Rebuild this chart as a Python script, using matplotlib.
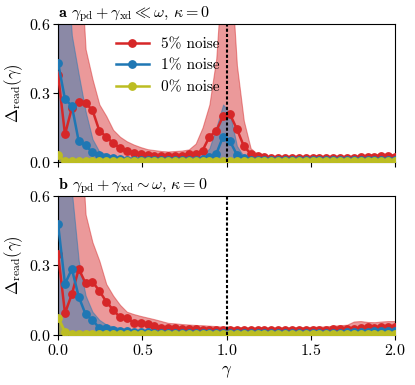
import numpy as np
import matplotlib
matplotlib.use("Agg")
import matplotlib.pyplot as plt

plt.rcParams['font.family'] = 'serif'
plt.rcParams['font.serif'] = ['cmr10', 'DejaVu Serif']
plt.rcParams['mathtext.fontset'] = 'cm'
plt.rcParams['axes.formatter.use_mathtext'] = True
plt.rcParams['font.size'] = 11.5

gamma = np.linspace(0, 2, 50)

# panel a
a_red = [0.38, 0.12, 0.235, 0.263, 0.256, 0.225, 0.136, 0.11, 0.082, 0.062,
         0.048, 0.04, 0.036, 0.03, 0.028, 0.027, 0.026, 0.026, 0.028, 0.033,
         0.036, 0.05, 0.11, 0.135, 0.2, 0.207, 0.143, 0.07, 0.036, 0.025,
         0.02, 0.018, 0.017, 0.016, 0.016, 0.016, 0.016, 0.016, 0.016, 0.017,
         0.017, 0.018, 0.018, 0.019, 0.02, 0.022, 0.024, 0.026, 0.025, 0.024]
a_red_hi = [1.0, 1.0, 1.0, 1.0, 0.49, 0.36, 0.25, 0.2, 0.14, 0.11,
            0.09, 0.076, 0.065, 0.056, 0.052, 0.048, 0.046, 0.048, 0.05, 0.055,
            0.08, 0.15, 0.25, 0.45, 0.9, 0.9, 0.42, 0.18, 0.06, 0.035,
            0.028, 0.025, 0.024, 0.023, 0.023, 0.023, 0.023, 0.023, 0.023, 0.024,
            0.024, 0.025, 0.026, 0.027, 0.029, 0.031, 0.033, 0.035, 0.035, 0.034]
a_blue = [0.43, 0.273, 0.244, 0.09, 0.072, 0.042, 0.029, 0.022, 0.016, 0.013,
          0.011, 0.01, 0.009, 0.009, 0.009, 0.009, 0.009, 0.009, 0.009, 0.009,
          0.01, 0.012, 0.02, 0.036, 0.111, 0.09, 0.032, 0.017, 0.01, 0.008,
          0.007, 0.007, 0.007, 0.007, 0.007, 0.007, 0.007, 0.007, 0.007, 0.007,
          0.007, 0.007, 0.007, 0.007, 0.007, 0.008, 0.008, 0.008, 0.008, 0.008]
a_blue_hi = [1.0, 1.0, 0.55, 0.38, 0.22, 0.1, 0.045, 0.035, 0.028, 0.022,
             0.018, 0.016, 0.014, 0.013, 0.013, 0.013, 0.013, 0.013, 0.013, 0.014,
             0.016, 0.025, 0.06, 0.15, 0.25, 0.21, 0.07, 0.025, 0.014, 0.012,
             0.012, 0.012, 0.012, 0.012, 0.012, 0.012, 0.012, 0.012, 0.012, 0.012,
             0.012, 0.012, 0.012, 0.012, 0.012, 0.013, 0.013, 0.013, 0.013, 0.013]
a_yel = [0.03] + [0.003] * 49
a_yel_hi = [0.04] + [0.006] * 49

# panel b
b_red = [0.35, 0.094, 0.176, 0.285, 0.223, 0.23, 0.19, 0.144, 0.108, 0.076,
         0.072, 0.053, 0.05, 0.046, 0.038, 0.032, 0.03, 0.028, 0.026, 0.025,
         0.024, 0.023, 0.022, 0.022, 0.022, 0.021, 0.021, 0.02, 0.02, 0.02,
         0.02, 0.02, 0.02, 0.021, 0.021, 0.021, 0.022, 0.022, 0.023, 0.023,
         0.024, 0.025, 0.026, 0.027, 0.028, 0.035, 0.032, 0.035, 0.036, 0.036]
b_red_hi = [1.0, 1.0, 1.0, 1.0, 0.52, 0.4, 0.32, 0.22, 0.17, 0.13,
            0.1, 0.09, 0.082, 0.075, 0.068, 0.06, 0.052, 0.05, 0.047, 0.045,
            0.043, 0.042, 0.04, 0.038, 0.036, 0.035, 0.034, 0.033, 0.032, 0.032,
            0.032, 0.032, 0.032, 0.033, 0.033, 0.034, 0.034, 0.035, 0.036, 0.037,
            0.04, 0.042, 0.044, 0.058, 0.06, 0.056, 0.055, 0.058, 0.06, 0.06]
b_blue = [0.478, 0.22, 0.285, 0.165, 0.089, 0.065, 0.029, 0.032, 0.022, 0.018,
          0.015, 0.013, 0.011, 0.011, 0.01, 0.01, 0.01, 0.01, 0.01, 0.01,
          0.01, 0.01, 0.01, 0.01, 0.01, 0.01, 0.01, 0.01, 0.01, 0.01,
          0.01, 0.01, 0.01, 0.01, 0.01, 0.01, 0.01, 0.01, 0.01, 0.01,
          0.01, 0.01, 0.011, 0.011, 0.012, 0.014, 0.015, 0.016, 0.016, 0.017]
b_blue_hi = [1.0, 1.0, 0.62, 0.32, 0.17, 0.1, 0.065, 0.045, 0.036, 0.03,
             0.026, 0.023, 0.02, 0.02, 0.019, 0.019, 0.018, 0.018, 0.018, 0.018,
             0.018, 0.018, 0.018, 0.018, 0.018, 0.018, 0.018, 0.018, 0.018, 0.018,
             0.018, 0.018, 0.018, 0.018, 0.018, 0.018, 0.018, 0.018, 0.018, 0.019,
             0.019, 0.02, 0.021, 0.022, 0.023, 0.025, 0.025, 0.025, 0.025, 0.025]
b_yel = [0.075, 0.012] + [0.004] * 48
b_yel_hi = [0.085, 0.02] + [0.007] * 48

labels = ['5% noise', '1% noise', '0% noise']
colors = ['tab:red', 'tab:blue', 'tab:olive']
titles = [r'$\mathbf{a}$ $\gamma_{\rm pd}+\gamma_{\rm xd}\ll\omega$, $\kappa=0$',
          r'$\mathbf{b}$ $\gamma_{\rm pd}+\gamma_{\rm xd}\sim\omega$, $\kappa=0$']

panels = [
    [(a_red, a_red_hi), (a_blue, a_blue_hi), (a_yel, a_yel_hi)],
    [(b_red, b_red_hi), (b_blue, b_blue_hi), (b_yel, b_yel_hi)],
]

fig = plt.figure(figsize=(4.15, 3.85), dpi=100)
ax1 = fig.add_axes([0.14, 0.579, 0.812, 0.359])
ax2 = fig.add_axes([0.14, 0.13, 0.812, 0.361])

for ax, series, title in zip([ax1, ax2], panels, titles):
    for (m, hi), c in zip(series, colors):
        ax.fill_between(gamma, 0, hi, color=c, alpha=0.47, lw=0.8, zorder=1)
    for (m, hi), c, lab in zip(series, colors, labels):
        ax.plot(gamma, m, '-o', color=c, lw=1.8, ms=5.3, label=lab, zorder=3)
    ax.axvline(1.0, color='k', ls=(0, (1.5, 1)), lw=1.5, zorder=4)
    ax.set_xlim(0, 2)
    ax.set_ylim(0, 0.6)
    ax.set_yticks([0, 0.3, 0.6])
    ax.set_xticks([0, 0.5, 1, 1.5, 2])
    ax.tick_params(labelsize=11.5, pad=2)
    ax.set_ylabel(r'$\Delta_{\rm read}(\gamma)$', fontsize=12, labelpad=3)
    ax.set_title(title, loc='left', fontsize=11.5, pad=1)

ax1.set_xticklabels([])
ax2.set_xlabel(r'$\gamma$', fontsize=12, labelpad=4)
ax1.legend(loc='upper left', bbox_to_anchor=(0.13, 1.0), frameon=False,
           fontsize=11, handlelength=2.2, labelspacing=0.5, handletextpad=0.8)

fig.savefig('out.png', dpi=100)
